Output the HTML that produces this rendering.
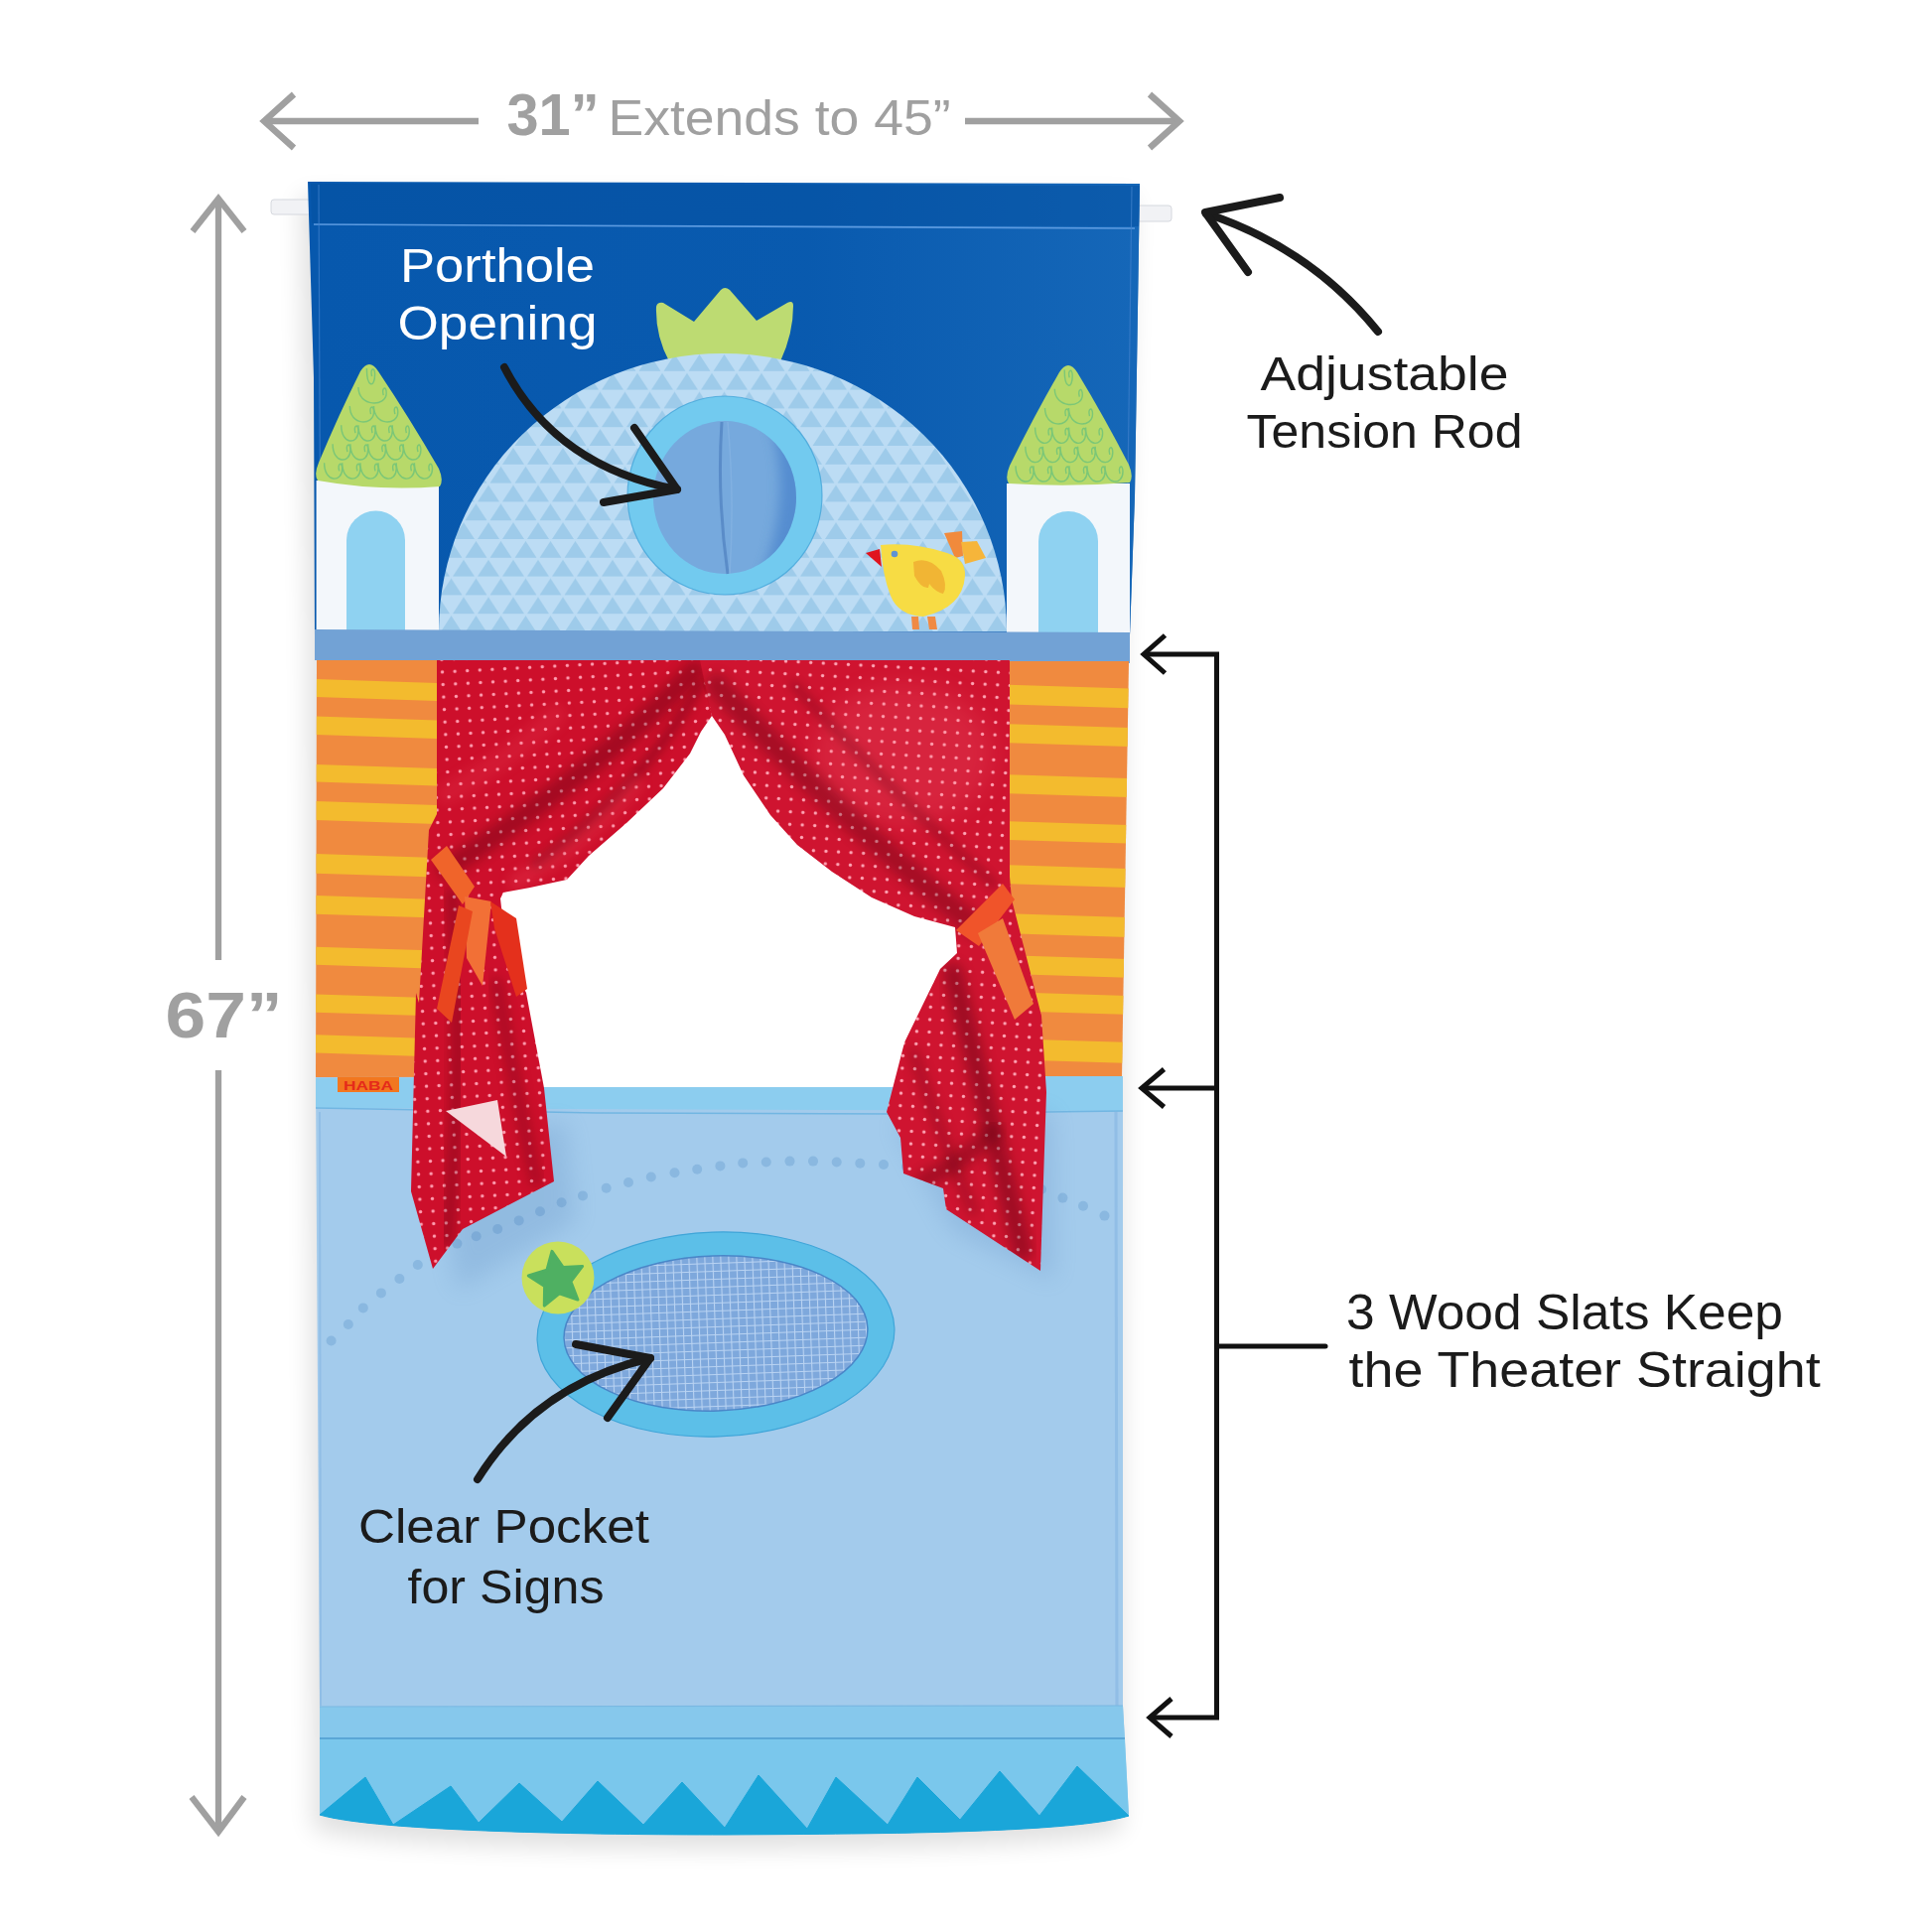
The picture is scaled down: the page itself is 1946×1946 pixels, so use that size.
<!DOCTYPE html>
<html><head><meta charset="utf-8"><title>Doorway Puppet Theater</title>
<style>html,body{margin:0;padding:0;background:#ffffff;}body{width:1946px;height:1946px;overflow:hidden;}svg{display:block;}</style>
</head><body>
<svg width="1946" height="1946" viewBox="0 0 1946 1946">
<defs>
  <pattern id="dots" width="12.6" height="12.6" patternUnits="userSpaceOnUse" patternTransform="rotate(-3)">
    <rect width="12.6" height="12.6" fill="#cd0f2b"/>
    <circle cx="6.3" cy="6.3" r="1.7" fill="#ff9db0"/>
  </pattern>
  <pattern id="dots2" width="12.6" height="12.6" patternUnits="userSpaceOnUse" patternTransform="rotate(3)">
    <rect width="12.6" height="12.6" fill="#cf1430"/>
    <circle cx="6.3" cy="6.3" r="1.7" fill="#ffa5b5"/>
  </pattern>
  <pattern id="tri" width="25" height="37.6" patternUnits="userSpaceOnUse" x="442" y="356">
    <rect width="25" height="37.6" fill="#bcdcf4"/>
    <path d="M1.5,17.8 L12.5,1 L23.5,17.8 Z M-11,36.6 L0,19.8 L11,36.6 Z M14,36.6 L25,19.8 L36,36.6 Z" fill="#9ecbea"/>
  </pattern>
  <pattern id="mesh" width="8" height="8" patternUnits="userSpaceOnUse">
    <rect width="8" height="8" fill="#7ea8dc"/>
    <path d="M0,0.5 H8 M0.5,0 V8" stroke="#b9d3f2" stroke-width="1.2"/>
  </pattern>
  <filter id="blur16" x="-20%" y="-20%" width="140%" height="140%"><feGaussianBlur stdDeviation="16"/></filter>
  <filter id="blur12" x="-20%" y="-20%" width="140%" height="140%"><feGaussianBlur stdDeviation="12"/></filter>
  <filter id="blur6" x="-20%" y="-20%" width="140%" height="140%"><feGaussianBlur stdDeviation="6"/></filter>
  <filter id="blur4" x="-20%" y="-20%" width="140%" height="140%"><feGaussianBlur stdDeviation="4"/></filter>
  <linearGradient id="panelgrad" x1="310" y1="0" x2="1148" y2="0" gradientUnits="userSpaceOnUse"><stop offset="0" stop-color="#1a6cbc" stop-opacity="0"/><stop offset="0.6" stop-color="#1a6cbc" stop-opacity="0.1"/><stop offset="1" stop-color="#1a6cbc" stop-opacity="0.75"/></linearGradient>
  <linearGradient id="fold1" x1="0" y1="0" x2="1" y2="1">
    <stop offset="0" stop-color="#000" stop-opacity="0"/>
    <stop offset="0.5" stop-color="#000" stop-opacity="0.18"/>
    <stop offset="1" stop-color="#000" stop-opacity="0"/>
  </linearGradient>
</defs>

<path d="M310,183 L1148,185 L1138,640 L1137,1829 C1080,1846 900,1847 730,1848 C600,1848 380,1845 322,1828 L317,640 Z" transform="translate(-7,14)" fill="#000" opacity="0.12" filter="url(#blur12)"/>
<rect x="273" y="201" width="40" height="15" rx="3" fill="#f1f2f5" stroke="#d5d8de" stroke-width="1"/>
<rect x="1145" y="207" width="35" height="16" rx="3" fill="#f1f2f5" stroke="#d5d8de" stroke-width="1"/>
<path d="M310,183 L1148,185 L1143,500 L1138,640 L317,640 L316,380 Z" fill="#0758ad"/>
<path d="M310,183 L1148,185 L1143,500 L1138,640 L317,640 L316,380 Z" fill="url(#panelgrad)"/>
<path d="M313,185 L1148,187 L1147,228 L314,225 Z" fill="#0350a0" opacity="0.5"/>
<path d="M316,226 L1143,230" stroke="#5d9be0" stroke-width="1.6" fill="none"/>
<path d="M321,186 L323,634" stroke="#3f80cc" stroke-width="1.2" fill="none" opacity="0.7"/>
<path d="M1140,188 L1134,636" stroke="#3f80cc" stroke-width="1.2" fill="none" opacity="0.7"/>
<rect x="318.6" y="484" width="123.39999999999998" height="152" fill="#f3f7fb"/><path d="M349,636 L349,544.1 A29.5,29.5 0 0 1 408,544.1 L408,636 Z" fill="#8fd2f1"/><path d="M320,484 Q316,478 321,466 Q341.0,418.0 363,374 Q372,360 381,374 Q412.5,421.0 442,472 Q447,484 443,490 Q381.5,495 320,484 Z" fill="#b7d96a"/><path d="M369.4,371.0 C369.4,391.0 377.6,391.0 377.6,377.0 C377.6,369.0 372.6,371.0 374.6,379.0 " stroke="#6cc27a" stroke-width="1.4" fill="none" opacity="0.8"/><path d="M360.9,390.1 C360.9,410.1 389.2,410.1 389.2,396.1 C389.2,388.1 384.2,390.1 386.2,398.1 " stroke="#6cc27a" stroke-width="1.4" fill="none" opacity="0.8"/><path d="M352.3,409.1 C352.3,429.1 376.5,429.1 376.5,415.1 C376.5,407.1 371.5,409.1 373.5,417.1 M376.5,409.1 C376.5,429.1 400.8,429.1 400.8,415.1 C400.8,407.1 395.8,409.1 397.8,417.1 " stroke="#6cc27a" stroke-width="1.4" fill="none" opacity="0.8"/><path d="M343.7,428.2 C343.7,448.2 360.9,448.2 360.9,434.2 C360.9,426.2 355.9,428.2 357.9,436.2 M360.9,428.2 C360.9,448.2 378.0,448.2 378.0,434.2 C378.0,426.2 373.0,428.2 375.0,436.2 M378.0,428.2 C378.0,448.2 395.2,448.2 395.2,434.2 C395.2,426.2 390.2,428.2 392.2,436.2 M395.2,428.2 C395.2,448.2 412.3,448.2 412.3,434.2 C412.3,426.2 407.3,428.2 409.3,436.2 " stroke="#6cc27a" stroke-width="1.4" fill="none" opacity="0.8"/><path d="M335.1,447.2 C335.1,467.2 352.9,467.2 352.9,453.2 C352.9,445.2 347.9,447.2 349.9,455.2 M352.9,447.2 C352.9,467.2 370.7,467.2 370.7,453.2 C370.7,445.2 365.7,447.2 367.7,455.2 M370.7,447.2 C370.7,467.2 388.4,467.2 388.4,453.2 C388.4,445.2 383.4,447.2 385.4,455.2 M388.4,447.2 C388.4,467.2 406.2,467.2 406.2,453.2 C406.2,445.2 401.2,447.2 403.2,455.2 M406.2,447.2 C406.2,467.2 423.9,467.2 423.9,453.2 C423.9,445.2 418.9,447.2 420.9,455.2 " stroke="#6cc27a" stroke-width="1.4" fill="none" opacity="0.8"/><path d="M326.6,466.3 C326.6,486.3 344.7,486.3 344.7,472.3 C344.7,464.3 339.7,466.3 341.7,474.3 M344.7,466.3 C344.7,486.3 362.9,486.3 362.9,472.3 C362.9,464.3 357.9,466.3 359.9,474.3 M362.9,466.3 C362.9,486.3 381.0,486.3 381.0,472.3 C381.0,464.3 376.0,466.3 378.0,474.3 M381.0,466.3 C381.0,486.3 399.2,486.3 399.2,472.3 C399.2,464.3 394.2,466.3 396.2,474.3 M399.2,466.3 C399.2,486.3 417.4,486.3 417.4,472.3 C417.4,464.3 412.4,466.3 414.4,474.3 M417.4,466.3 C417.4,486.3 435.5,486.3 435.5,472.3 C435.5,464.3 430.5,466.3 432.5,474.3 " stroke="#6cc27a" stroke-width="1.4" fill="none" opacity="0.8"/>
<rect x="1014" y="487" width="124" height="150" fill="#f3f7fb"/><path d="M1046,637 L1046,545.0 A30.0,30.0 0 0 1 1106,545.0 L1106,637 Z" fill="#8fd2f1"/><path d="M1016,487 Q1012,481 1017,469 Q1041.0,420.0 1067,375 Q1076,361 1085,375 Q1112.0,419.5 1137,468 Q1142,480 1138,486 Q1077.0,491 1016,487 Z" fill="#b7d96a"/><path d="M1072.2,372.4 C1072.2,392.4 1080.2,392.4 1080.2,378.4 C1080.2,370.4 1075.2,372.4 1077.2,380.4 " stroke="#6cc27a" stroke-width="1.4" fill="none" opacity="0.8"/><path d="M1062.3,391.7 C1062.3,411.7 1090.3,411.7 1090.3,397.7 C1090.3,389.7 1085.3,391.7 1087.3,399.7 " stroke="#6cc27a" stroke-width="1.4" fill="none" opacity="0.8"/><path d="M1052.5,411.1 C1052.5,431.1 1076.5,431.1 1076.5,417.1 C1076.5,409.1 1071.5,411.1 1073.5,419.1 M1076.5,411.1 C1076.5,431.1 1100.5,431.1 1100.5,417.1 C1100.5,409.1 1095.5,411.1 1097.5,419.1 " stroke="#6cc27a" stroke-width="1.4" fill="none" opacity="0.8"/><path d="M1042.6,430.5 C1042.6,450.5 1059.6,450.5 1059.6,436.5 C1059.6,428.5 1054.6,430.5 1056.6,438.5 M1059.6,430.5 C1059.6,450.5 1076.6,450.5 1076.6,436.5 C1076.6,428.5 1071.6,430.5 1073.6,438.5 M1076.6,430.5 C1076.6,450.5 1093.6,450.5 1093.6,436.5 C1093.6,428.5 1088.6,430.5 1090.6,438.5 M1093.6,430.5 C1093.6,450.5 1110.6,450.5 1110.6,436.5 C1110.6,428.5 1105.6,430.5 1107.6,438.5 " stroke="#6cc27a" stroke-width="1.4" fill="none" opacity="0.8"/><path d="M1032.8,449.8 C1032.8,469.8 1050.4,469.8 1050.4,455.8 C1050.4,447.8 1045.4,449.8 1047.4,457.8 M1050.4,449.8 C1050.4,469.8 1068.0,469.8 1068.0,455.8 C1068.0,447.8 1063.0,449.8 1065.0,457.8 M1068.0,449.8 C1068.0,469.8 1085.6,469.8 1085.6,455.8 C1085.6,447.8 1080.6,449.8 1082.6,457.8 M1085.6,449.8 C1085.6,469.8 1103.2,469.8 1103.2,455.8 C1103.2,447.8 1098.2,449.8 1100.2,457.8 M1103.2,449.8 C1103.2,469.8 1120.8,469.8 1120.8,455.8 C1120.8,447.8 1115.8,449.8 1117.8,457.8 " stroke="#6cc27a" stroke-width="1.4" fill="none" opacity="0.8"/><path d="M1023.0,469.2 C1023.0,489.2 1041.0,489.2 1041.0,475.2 C1041.0,467.2 1036.0,469.2 1038.0,477.2 M1041.0,469.2 C1041.0,489.2 1059.0,489.2 1059.0,475.2 C1059.0,467.2 1054.0,469.2 1056.0,477.2 M1059.0,469.2 C1059.0,489.2 1077.0,489.2 1077.0,475.2 C1077.0,467.2 1072.0,469.2 1074.0,477.2 M1077.0,469.2 C1077.0,489.2 1095.0,489.2 1095.0,475.2 C1095.0,467.2 1090.0,469.2 1092.0,477.2 M1095.0,469.2 C1095.0,489.2 1113.0,489.2 1113.0,475.2 C1113.0,467.2 1108.0,469.2 1110.0,477.2 M1113.0,469.2 C1113.0,489.2 1131.0,489.2 1131.0,475.2 C1131.0,467.2 1126.0,469.2 1128.0,477.2 " stroke="#6cc27a" stroke-width="1.4" fill="none" opacity="0.8"/>
<path d="M674,364 Q660,338 661,309 Q662,304 668,305 L699,324 L726,292 Q730,288 735,292 L762,323 L793,305 Q799,302 799,308 Q799,336 786,364 Z" fill="#bddb72"/>
<path d="M442,636 A286,280 0 0 1 1014,636 Z" fill="url(#tri)"/>
<ellipse cx="730" cy="499" rx="98" ry="100" fill="#72caef"/>
<ellipse cx="730" cy="499" rx="98" ry="100" fill="none" stroke="#3c9fd6" stroke-width="1.2" opacity="0.7"/>
<ellipse cx="730" cy="501" rx="72" ry="77" fill="#76a9dd"/><clipPath id="clipPH"><ellipse cx="730" cy="501" rx="72" ry="77"/></clipPath><g clip-path="url(#clipPH)"><path d="M775,425 Q800,500 765,585 L820,585 L820,425 Z" fill="#3f7cc8" opacity="0.6" filter="url(#blur6)"/></g>
<path d="M727,425 Q722,500 733,578" stroke="#5a8cc8" stroke-width="3" fill="none"/>
<path d="M733,425 Q740,500 735,578" stroke="#88b6e4" stroke-width="1.5" fill="none" opacity="0.6"/>
<path d="M951,537 L969,535 L970,560 L962,562 Z" fill="#f18a3c"/>
<path d="M968,546 L984,545 L993,562 L972,568 Z" fill="#f6b53a"/>
<path d="M887,549 Q920,546 954,557 Q973,563 972,580 Q970,612 930,621 Q905,620 897,600 Q889,580 887,549 Z" fill="#f7dc44"/>
<path d="M872,557 L886,553 L888,571 Z" fill="#e0141e"/>
<circle cx="901" cy="558" r="3.3" fill="#5f93d3"/>
<path d="M920,566 Q935,560 948,575 Q955,590 950,598 Q942,596 936,588 L935,592 Q928,593 921,580 Z" fill="#f1b534"/>
<path d="M918,621 L925,621 L926,634 L919,634 Z M934,621 L942,621 L944,634 L936,634 Z" fill="#f08a44"/>
<path d="M317,634 L1138,637 L1138,668 L317,665 Z" fill="#72a2d5"/>
<clipPath id="clipL"><path d="M319,665 L440,665 L440,820 L432,900 L421,1086 L318,1086 Z"/></clipPath><g clip-path="url(#clipL)"><rect x="316" y="665" width="126" height="421" fill="#f08a3f"/><path d="M316,684 L442,688 L442,706 L316,702 Z" fill="#f3bb2e"/><path d="M316,721.5 L442,725.5 L442,744 L316,740 Z" fill="#f3bb2e"/><path d="M316,770 L442,774 L442,791.5 L316,787.5 Z" fill="#f3bb2e"/><path d="M316,807 L442,811 L442,830 L316,826 Z" fill="#f3bb2e"/><path d="M316,860 L442,864 L442,883.6 L316,879.6 Z" fill="#f3bb2e"/><path d="M316,902 L442,906 L442,924.6 L316,920.6 Z" fill="#f3bb2e"/><path d="M316,953.6 L442,957.6 L442,975.8 L316,971.8 Z" fill="#f3bb2e"/><path d="M316,1001.4 L442,1005.4 L442,1023.6 L316,1019.6 Z" fill="#f3bb2e"/><path d="M316,1042.3 L442,1046.3 L442,1064.5 L316,1060.5 Z" fill="#f3bb2e"/></g>
<clipPath id="clipR"><path d="M1014,666 L1137,666 L1130,1086 L1014,1086 Z"/></clipPath><g clip-path="url(#clipR)"><rect x="1010" y="666" width="130" height="420" fill="#f08a3f"/><path d="M1010,689.6 L1140,693.6 L1140,713.4 L1010,709.4 Z" fill="#f3bb2e"/><path d="M1010,729 L1140,733 L1140,752 L1010,748 Z" fill="#f3bb2e"/><path d="M1010,780 L1140,784 L1140,803 L1010,799 Z" fill="#f3bb2e"/><path d="M1010,827 L1140,831 L1140,849.7 L1010,845.7 Z" fill="#f3bb2e"/><path d="M1010,871 L1140,875 L1140,894 L1010,890 Z" fill="#f3bb2e"/><path d="M1010,920 L1140,924 L1140,944 L1010,940 Z" fill="#f3bb2e"/><path d="M1010,962 L1140,966 L1140,984.8 L1010,980.8 Z" fill="#f3bb2e"/><path d="M1010,999 L1140,1003 L1140,1022 L1010,1018 Z" fill="#f3bb2e"/><path d="M1010,1046 L1140,1050 L1140,1071 L1010,1067 Z" fill="#f3bb2e"/></g>
<path d="M318,1085 L1131,1084 L1131,1718 L1137,1829 C1080,1846 900,1847 730,1848 C600,1848 380,1845 322,1828 L322,1718 Z" fill="#a3cbec"/>
<path d="M318,1086 L1131,1084 L1131,1119 L318,1116 Z" fill="#8ccdef"/>
<path d="M318,1116 L600,1121 L900,1122 L1131,1119" stroke="#72b6e2" stroke-width="1.5" fill="none"/>
<path d="M322,1120 L323,1718" stroke="#86b6e2" stroke-width="2" opacity="0.6" fill="none"/>
<path d="M1124,1120 L1125,1718" stroke="#86b6e2" stroke-width="3" opacity="0.6" fill="none"/>
<path d="M322,1719 L1131,1718 L1133,1751 L322,1751 Z" fill="#86c8ec"/>
<path d="M322,1751 L1133,1751 L1137,1829 C1080,1846 900,1847 730,1848 C600,1848 380,1845 322,1828 Z" fill="#7ac7ec"/>
<path d="M322,1751 L1133,1751" stroke="#5aa6d6" stroke-width="2"/>
<path d="M322,1719 L1131,1718" stroke="#7ab8e2" stroke-width="1.2"/>
<path d="M322,1828 L368,1790 L396,1838 L454,1799 L482,1836 L523,1796 L566,1835 L602,1794 L648,1838 L687,1795 L730,1841 L764,1788 L813,1842 L842,1790 L894,1838 L924,1790 L967,1833 L1007,1784 L1047,1829 L1085,1779 L1137,1829 C1080,1846 900,1847 730,1848 C600,1848 380,1845 322,1828 Z" fill="#1aa6d9" stroke="#1aa6d9" stroke-width="1" stroke-linejoin="round"/>
<g fill="#8ab8e0"><circle cx="333.6" cy="1350.5" r="5"/><circle cx="350.8" cy="1334" r="5"/><circle cx="365.8" cy="1317.4" r="5"/><circle cx="383.9" cy="1302.4" r="5"/><circle cx="402.4" cy="1288" r="5"/><circle cx="420.8" cy="1274" r="5"/><circle cx="440.6" cy="1263" r="5"/><circle cx="460.4" cy="1252.6" r="5"/><circle cx="479.7" cy="1245.3" r="5"/><circle cx="501.2" cy="1238" r="5"/><circle cx="522.7" cy="1229.4" r="5"/><circle cx="544" cy="1220.3" r="5"/><circle cx="565.6" cy="1211.3" r="5"/><circle cx="587" cy="1204.4" r="5"/><circle cx="610.7" cy="1196.7" r="5"/><circle cx="633" cy="1191" r="5"/><circle cx="655.8" cy="1185.5" r="5"/><circle cx="679.5" cy="1181.2" r="5"/><circle cx="702.2" cy="1177.8" r="5"/><circle cx="725.4" cy="1174.4" r="5"/><circle cx="748.2" cy="1171.4" r="5"/><circle cx="771.8" cy="1170.5" r="5"/><circle cx="795.5" cy="1169.6" r="5"/><circle cx="819" cy="1169.6" r="5"/><circle cx="842.7" cy="1170.5" r="5"/><circle cx="866.3" cy="1171.8" r="5"/><circle cx="890" cy="1173" r="5"/><circle cx="913" cy="1175" r="5"/><circle cx="936" cy="1178" r="5"/><circle cx="959" cy="1182" r="5"/><circle cx="982" cy="1186" r="5"/><circle cx="1005" cy="1190" r="5"/><circle cx="1027" cy="1194" r="5"/><circle cx="1049" cy="1198" r="5"/><circle cx="1070.4" cy="1206.6" r="5"/><circle cx="1091" cy="1214.8" r="5"/><circle cx="1112.5" cy="1224.6" r="5"/></g>
<g fill="#3a6aa8" opacity="0.16" filter="url(#blur12)"><path d="M440,1150 L570,1130 L580,1230 L460,1300 Z"/><path d="M900,1130 L1060,1120 L1062,1290 L960,1240 Z"/></g>
<ellipse cx="721" cy="1344" rx="180" ry="103" fill="#5cbfe8" transform="rotate(-2 721 1344)"/>
<ellipse cx="721" cy="1344" rx="180" ry="103" fill="none" stroke="#3fa5d8" stroke-width="1.2" transform="rotate(-2 721 1344)"/>
<ellipse cx="721" cy="1343" rx="153" ry="78" fill="url(#mesh)" transform="rotate(-2 721 1343)"/>
<ellipse cx="721" cy="1343" rx="153" ry="78" fill="none" stroke="#4a86c8" stroke-width="1.5" transform="rotate(-2 721 1343)"/>
<circle cx="562" cy="1287" r="36.5" fill="#c9e05c"/>
<path d="M556.0,1260.4 L567.1,1276.4 L586.6,1275.4 L574.9,1290.9 L581.9,1309.1 L563.4,1302.8 L548.3,1315.1 L548.6,1295.6 L532.3,1285.0 L550.9,1279.3 Z" fill="#4fb062" stroke="#4fb062" stroke-width="3" stroke-linejoin="round"/>
<path d="M444,671 L1015,671 L1015,1095 L444,1095 Z" fill="#ffffff"/>
<path d="M700,665 L1017,665 L1017,883 L1019,906 L1049,1023 L1054,1100 L1052,1158 L1048,1280 L953,1218 L950,1197 L910,1182 L907,1146 L893,1120 L911,1050 L947,976 L964,960 L962,934 L921,923 L878,904 L838,878 L803,851 L776,821 L749,781 L730,740 L717,721 Z" fill="url(#dots2)"/>
<path d="M440,665 L705,665 L717,721 L706,737 L695,759 L668,794 L631,829 L593,862 L571,886 L534,894 L507,899 L504,905 L510,960 L530,1000 L548,1096 L558,1190 L466,1238 L436,1278 L414,1200 L419,1000 L422,1010 L432,836 L440,820 Z" fill="url(#dots)"/>
<clipPath id="clipLC"><path d="M440,665 L705,665 L717,721 L706,737 L695,759 L668,794 L631,829 L593,862 L571,886 L534,894 L507,899 L504,905 L510,960 L530,1000 L548,1096 L558,1190 L466,1238 L436,1278 L414,1200 L419,1000 L422,1010 L432,836 L440,820 Z"/></clipPath><clipPath id="clipRC"><path d="M700,665 L1017,665 L1017,883 L1019,906 L1049,1023 L1054,1100 L1052,1158 L1048,1280 L953,1218 L950,1197 L910,1182 L907,1146 L893,1120 L911,1050 L947,976 L964,960 L962,934 L921,923 L878,904 L838,878 L803,851 L776,821 L749,781 L730,740 L717,721 Z"/></clipPath>
<g clip-path="url(#clipLC)" fill="none" stroke-linecap="round"><path d="M700,675 Q610,770 450,875" stroke="#4a0008" stroke-width="20" opacity="0.32" filter="url(#blur6)"/><path d="M705,690 Q650,790 540,870" stroke="#4a0008" stroke-width="10" opacity="0.28" filter="url(#blur4)"/><path d="M640,790 Q590,850 520,888" stroke="#ff5a6a" stroke-width="16" opacity="0.22" filter="url(#blur6)"/><path d="M560,720 Q520,760 450,800" stroke="#ff5a6a" stroke-width="22" opacity="0.14" filter="url(#blur6)"/><path d="M455,900 Q470,1050 450,1250" stroke="#4a0008" stroke-width="14" opacity="0.3" filter="url(#blur6)"/><path d="M500,990 Q520,1100 540,1190" stroke="#4a0008" stroke-width="12" opacity="0.25" filter="url(#blur6)"/></g>
<g clip-path="url(#clipRC)" fill="none" stroke-linecap="round"><ellipse cx="910" cy="760" rx="90" ry="70" fill="#ff6f80" opacity="0.18" filter="url(#blur12)"/><path d="M722,690 Q840,820 985,935" stroke="#4a0008" stroke-width="22" opacity="0.3" filter="url(#blur6)"/><path d="M800,690 Q900,800 1000,890" stroke="#4a0008" stroke-width="10" opacity="0.22" filter="url(#blur4)"/><path d="M960,980 Q990,1100 1030,1260" stroke="#4a0008" stroke-width="20" opacity="0.35" filter="url(#blur6)"/><path d="M1000,1140 Q970,1170 930,1190" stroke="#4a0008" stroke-width="18" opacity="0.3" filter="url(#blur6)"/><path d="M920,1060 Q950,1150 980,1220" stroke="#4a0008" stroke-width="10" opacity="0.25" filter="url(#blur6)"/></g>
<path d="M449,1119 L501,1108 L510,1165 Z" fill="#f6d8dc"/>
<g><path d="M434,866 L450,852 L478,893 L466,911 Z" fill="#f0642a"/><path d="M468,903 L495,908 L486,993 L470,965 Z" fill="#f27036"/><path d="M494,908 L520,925 L531,996 L520,1004 L498,935 Z" fill="#e4301c"/><path d="M462,912 L476,918 L455,1030 L440,1016 Z" fill="#e9461f"/></g>
<g><path d="M963,937 L1010,890 L1022,906 L986,953 Z" fill="#f0542a"/><path d="M985,940 L1010,925 L1041,1011 L1022,1027 Z" fill="#f07a3a"/></g>
<rect x="340" y="1085" width="62" height="15" fill="#f2771f"/>
<text x="371" y="1098" font-family="'Liberation Sans', sans-serif" font-size="13" font-weight="bold" fill="#e52a1a" text-anchor="middle" textLength="50" lengthAdjust="spacingAndGlyphs">HABA</text>
<g stroke="#a0a0a0" stroke-width="6.4" fill="none" stroke-linecap="butt" stroke-linejoin="miter"><path d="M266,122 L482,122"/><path d="M296,95 L266,122 L296,149"/><path d="M972,122 L1188,122"/><path d="M1158,95 L1188,122 L1158,149"/></g>
<g stroke="#a0a0a0" stroke-width="6.3" fill="none"><path d="M220,200 L220,967"/><path d="M194,233 L220,200 L246,233"/><path d="M220,1078 L220,1845"/><path d="M193,1810 L220,1845 L246,1810"/></g>
<g stroke="#111" stroke-width="5" fill="none" stroke-linecap="butt"><path d="M1152,659 L1225.5,659 L1225.5,1730 L1158,1730"/><path d="M1173.5,640 L1152,659 L1173.5,678"/><path d="M1150,1096 L1225.5,1096"/><path d="M1172.5,1077 L1150,1096 L1172.5,1115"/><path d="M1180,1711 L1158,1730 L1180,1749"/><path d="M1225.5,1356 L1335,1356" stroke-linecap="round"/></g>
<g stroke="#1b1b1b" stroke-width="8" fill="none" stroke-linecap="round" stroke-linejoin="round"><path d="M1388,334 Q1320,250 1215,215"/><path d="M1289,199 L1214,214 L1257,274"/><path d="M508,370 Q560,470 682,493"/><path d="M639,431 L682,493 L608,506"/><path d="M481,1490 Q540,1395 655,1368"/><path d="M580,1354 L655,1368 L612,1428"/></g>
<text x="510.5" y="135.6" font-family="'Liberation Sans', sans-serif" font-size="58.6" font-weight="bold" fill="#a0a0a0" textLength="93" lengthAdjust="spacingAndGlyphs">31&#8221;</text>
<text x="612.5" y="135.6" font-family="'Liberation Sans', sans-serif" font-size="49.6" fill="#a0a0a0" textLength="345" lengthAdjust="spacingAndGlyphs">Extends to 45&#8221;</text>
<text x="166.5" y="1044.7" font-family="'Liberation Sans', sans-serif" font-size="65.6" font-weight="bold" fill="#a0a0a0" textLength="118" lengthAdjust="spacingAndGlyphs">67&#8221;</text>
<text x="403" y="283.7" font-family="'Liberation Sans', sans-serif" font-size="49" fill="#ffffff" textLength="196" lengthAdjust="spacingAndGlyphs">Porthole</text>
<text x="400.5" y="341.8" font-family="'Liberation Sans', sans-serif" font-size="49" fill="#ffffff" textLength="201" lengthAdjust="spacingAndGlyphs">Opening</text>
<text x="1269.5" y="393.4" font-family="'Liberation Sans', sans-serif" font-size="48" fill="#1b1b1b" textLength="250" lengthAdjust="spacingAndGlyphs">Adjustable</text>
<text x="1255.5" y="451.4" font-family="'Liberation Sans', sans-serif" font-size="48" fill="#1b1b1b" textLength="278" lengthAdjust="spacingAndGlyphs">Tension Rod</text>
<text x="1356" y="1338.8" font-family="'Liberation Sans', sans-serif" font-size="49.7" fill="#1b1b1b" textLength="440" lengthAdjust="spacingAndGlyphs">3 Wood Slats Keep</text>
<text x="1358.5" y="1397" font-family="'Liberation Sans', sans-serif" font-size="49.7" fill="#1b1b1b" textLength="475.2" lengthAdjust="spacingAndGlyphs">the Theater Straight</text>
<text x="361" y="1553.5" font-family="'Liberation Sans', sans-serif" font-size="48.5" fill="#1b1b1b" textLength="293" lengthAdjust="spacingAndGlyphs">Clear Pocket</text>
<text x="410.5" y="1614.8" font-family="'Liberation Sans', sans-serif" font-size="48.5" fill="#1b1b1b" textLength="198" lengthAdjust="spacingAndGlyphs">for Signs</text></svg>
</body></html>
